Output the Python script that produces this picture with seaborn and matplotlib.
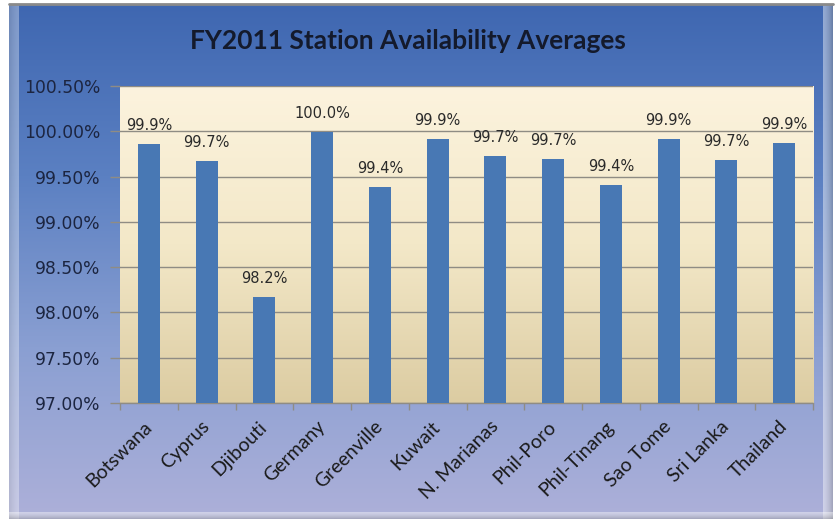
import numpy as np
import pandas as pd
import matplotlib
matplotlib.use("Agg")
import matplotlib.pyplot as plt
import seaborn as sns
from matplotlib.colors import LinearSegmentedColormap
from matplotlib.ticker import FixedLocator, FuncFormatter

stations = ["Botswana", "Cyprus", "Djibouti", "Germany", "Greenville", "Kuwait",
            "N. Marianas", "Phil-Poro", "Phil-Tinang", "Sao Tome", "Sri Lanka", "Thailand"]
availability = [99.86, 99.67, 98.17, 99.99, 99.38, 99.91,
                99.73, 99.69, 99.41, 99.91, 99.68, 99.87]
labels = ["99.9%", "99.7%", "98.2%", "100.0%", "99.4%", "99.9%",
          "99.7%", "99.7%", "99.4%", "99.9%", "99.7%", "99.9%"]
y_ticks = [97.0, 97.5, 98.0, 98.5, 99.0, 99.5, 100.0, 100.5]
title = "FY2011 Station Availability Averages"

df = pd.DataFrame({"station": stations, "availability": availability})

sns.set_theme(style="white")
plt.rcParams["font.family"] = ["DejaVu Sans"]

W, H = 838, 523
fig = plt.figure(figsize=(W / 100, H / 100), dpi=100, facecolor="white")

# outer chart area with vertical gradient
bx0, by0, bx1, by1 = 9, 4, 833, 519
bg = fig.add_axes([bx0 / W, 1 - by1 / H, (bx1 - bx0) / W, (by1 - by0) / H], zorder=0)
cmap_bg = LinearSegmentedColormap.from_list("bg", ["#3f67b1", "#5b80c2", "#8a9fd2", "#adb0d9"])
grad = np.linspace(0, 1, 256).reshape(-1, 1)
bg.imshow(grad, aspect="auto", cmap=cmap_bg, extent=[0, 1, 0, 1], origin="upper")
# soft edge shading
bg.imshow(np.linspace(0.35, 0, 40).reshape(1, -1), aspect="auto", cmap="Greys",
          extent=[0, 0.012, 0, 1], alpha=0.35, vmin=0, vmax=1)
bg.imshow(np.linspace(0, 0.5, 40).reshape(1, -1), aspect="auto", cmap="Greys",
          extent=[0.988, 1, 0, 1], alpha=0.45, vmin=0, vmax=1)
bg.imshow(np.linspace(0.5, 0, 40).reshape(-1, 1)[::-1], aspect="auto", cmap="Greys",
          extent=[0, 1, 0, 0.012], alpha=0.45, vmin=0, vmax=1)
bg.set_xlim(0, 1)
bg.set_ylim(0, 1)
bg.set_axis_off()
bg.plot([0, 1], [1, 1], color="#8a8a8a", lw=2, transform=bg.transAxes, clip_on=False)

# plot area
px0, py0, px1, py1 = 120, 86, 813, 403
ax = fig.add_axes([px0 / W, 1 - py1 / H, (px1 - px0) / W, (py1 - py0) / H], zorder=2)
ax.set_facecolor("none")
cmap_pa = LinearSegmentedColormap.from_list("pa", ["#fcf3de", "#f3e8c8", "#dccca2"])
ax.imshow(grad, aspect="auto", cmap=cmap_pa, extent=[-0.5, 11.5, 97.0, 100.5],
          origin="upper", zorder=0)

sns.barplot(data=df, x="station", y="availability", color="#4878b4", saturation=1,
            width=0.38, ax=ax, zorder=3, errorbar=None, linewidth=0, edgecolor="none")

ax.set_ylim(97.0, 100.5)
ax.set_xlim(-0.5, 11.5)
ax.yaxis.set_major_locator(FixedLocator(y_ticks))
ax.yaxis.set_major_formatter(FuncFormatter(lambda v, p: f"{v:.2f}%"))
ax.grid(axis="y", color="#8f8c84", lw=1.0, zorder=1)
ax.grid(axis="x", visible=False)
ax.set_axisbelow(False)
for ln in ax.get_ygridlines():
    ln.set_zorder(1)

for s in ["top", "right", "left"]:
    ax.spines[s].set_visible(False)
ax.spines["bottom"].set_color("#8f8c84")
ax.spines["bottom"].set_linewidth(1.0)

ax.tick_params(axis="y", which="major", length=7, color="#8f8c84", width=1,
               labelsize=12.3, labelcolor="#1c2540", pad=7, left=True)
ax.set_xticks(np.arange(len(stations)))
ax.set_xticklabels(stations, rotation=45, ha="right", va="center",
                   rotation_mode="anchor", fontsize=14, family="Lato", color="#1a1a1a")
ax.tick_params(axis="x", which="major", length=0, pad=15)
ax.set_xticks(np.arange(len(stations) + 1) - 0.5, minor=True)
ax.tick_params(axis="x", which="minor", length=5, color="#8f8c84", width=1, bottom=True)
ax.set_xlabel("")
ax.set_ylabel("")

for i, (v, lab) in enumerate(zip(availability, labels)):
    ax.annotate(lab, (i, v), xytext=(0, 8), textcoords="offset points",
                ha="center", va="bottom", fontsize=10.5, color="#2a2a2a", zorder=5,
                annotation_clip=False)

fig.text(408 / W, 1 - 41 / H, title, ha="center", va="center", fontsize=19,
         fontweight="bold", family="Lato", color="#141a2c", zorder=5)

fig.savefig("out.png", dpi=100, facecolor="white")
